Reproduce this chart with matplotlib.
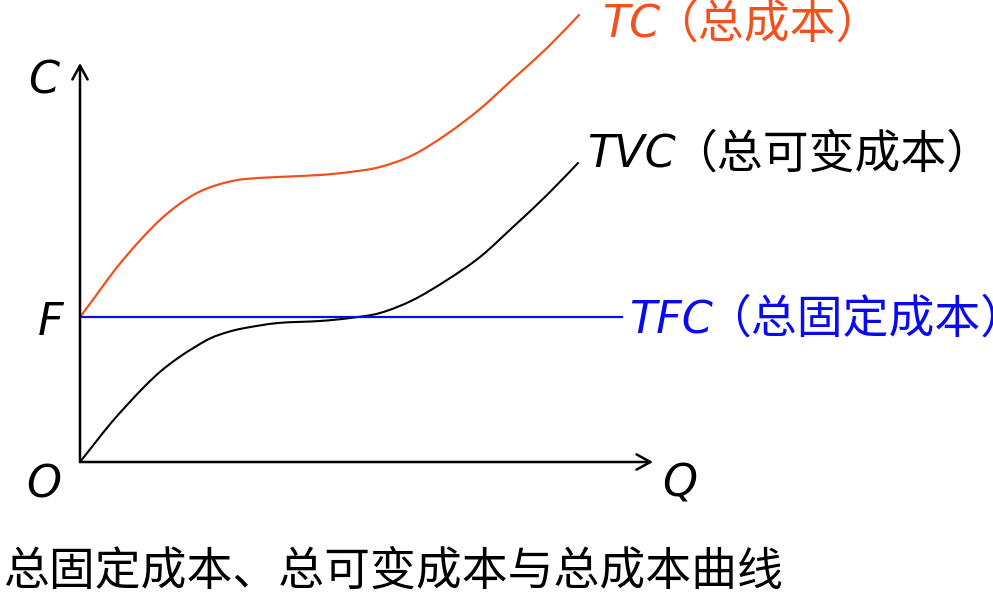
import matplotlib.pyplot as plt
from matplotlib.path import Path
from matplotlib.patches import PathPatch

# cost curves (q, cost), origin at O
q_tvc = [0, 15, 31, 48, 65, 81, 98, 115, 131, 148, 165, 198, 240, 270, 300, 333, 367, 400, 433, 467, 498]
tvc = [0, 19, 39, 58, 76, 91, 104, 115, 124, 130, 134, 139, 141, 144, 149, 162, 182, 205, 235, 267, 299]

q_tc = [0, 15, 31, 48, 65, 81, 98, 115, 131, 148, 165, 198, 240, 270, 300, 333, 367, 400, 433, 467, 499]
tc = [145, 165, 187, 208, 227, 243, 257, 268, 275, 280, 283, 285, 287, 290, 295, 307, 328, 353, 383, 414, 447]

fixed_cost = 145
q_tfc_end = 542
q_axis_end = 573
c_axis_end = 399

orange = '#F2501C'
blue = '#0A0AF0'
cjk = ['Noto Sans CJK SC', 'DejaVu Sans']


def smooth_curve(xs, ys, **kw):
    # Catmull-Rom through the read points, drawn as cubic Bezier segments
    pts = list(zip(xs, ys))
    verts = [pts[0]]
    codes = [Path.MOVETO]
    for i in range(len(pts) - 1):
        p0 = pts[max(i - 1, 0)]
        p1 = pts[i]
        p2 = pts[i + 1]
        p3 = pts[min(i + 2, len(pts) - 1)]
        c1 = (p1[0] + (p2[0] - p0[0]) / 6, p1[1] + (p2[1] - p0[1]) / 6)
        c2 = (p2[0] - (p3[0] - p1[0]) / 6, p2[1] - (p3[1] - p1[1]) / 6)
        verts += [c1, c2, p2]
        codes += [Path.CURVE4] * 3
    return PathPatch(Path(verts, codes), fill=False, **kw)


fig = plt.figure(figsize=(9.93, 5.94), dpi=100)
ax = fig.add_axes([0, 0, 1, 1])
ax.set_xlim(-80, 913)
ax.set_ylim(-132, 462)
ax.axis('off')

# axes with open arrow heads
arrow = dict(arrowstyle='->,head_length=1.0,head_width=0.55', mutation_scale=10,
             lw=1.8, color='black', shrinkA=0, shrinkB=0)
ax.annotate('', xy=(q_axis_end, 0), xytext=(0, 0), arrowprops=arrow)
ax.annotate('', xy=(0, c_axis_end), xytext=(0, 0), arrowprops=arrow)

ax.plot([0, q_tfc_end], [fixed_cost, fixed_cost], color=blue, lw=1.6)
ax.add_patch(smooth_curve(q_tvc, tvc, edgecolor='black', lw=1.5, capstyle='round'))
ax.add_patch(smooth_curve(q_tc, tc, edgecolor=orange, lw=1.6, capstyle='round'))

lat = dict(fontsize=32, style='italic', family='DejaVu Sans', va='baseline', ha='left')
cjk_kw = dict(fontsize=33, family=cjk, va='baseline', ha='left')

ax.text(-52, 462 - 93, 'C', **lat)
ax.text(-42, 462 - 335, 'F', **lat)
ax.text(-54, 462 - 497, 'O', **lat)
ax.text(582, 462 - 497, 'Q', **lat)

ax.text(522, 462 - 38, 'TC', color=orange, **lat)
ax.text(572, 462 - 38, '（总成本）', color=orange, **cjk_kw)

ax.text(507, 462 - 168, 'TVC', color='black', **lat)
ax.text(591, 462 - 168, '（总可变成本）', color='black', **cjk_kw)

ax.text(549, 462 - 333, 'TFC', color=blue, **lat)
ax.text(625, 462 - 333, '（总固定成本）', color=blue, **cjk_kw)

ax.text(-77, 462 - 585, '总固定成本、总可变成本与总成本曲线', color='black', **cjk_kw)

fig.savefig('out.png', dpi=100)
